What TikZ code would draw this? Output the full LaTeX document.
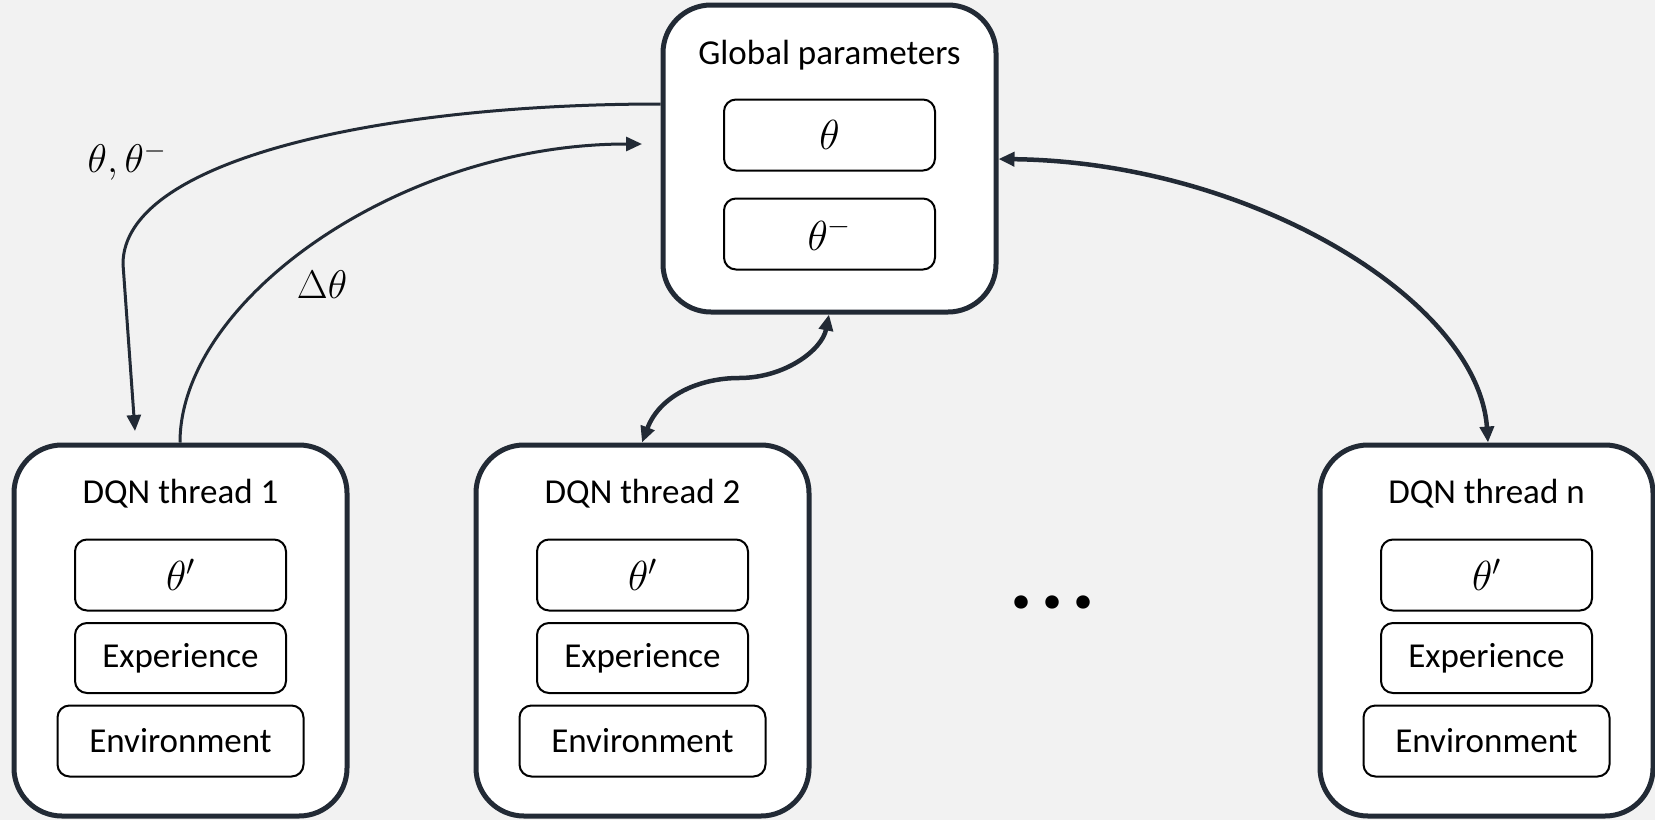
\RequirePackage{fix-cm}
\documentclass[tikz,border=0pt]{standalone}
\usepackage{fontspec}
\setmainfont{Carlito}
\usetikzlibrary{arrows.meta}
\definecolor{bg}{HTML}{F2F2F2}
\definecolor{ink}{HTML}{222A35}
\tikzset{
  hd/.tip={Triangle[length=16pt,width=14pt]},
  outer/.style={draw=ink, line width=5pt, fill=white, rounded corners=48pt,
    minimum width=333pt, inner sep=0pt},
  inner/.style={draw=black, line width=2pt, fill=white, rounded corners=12pt,
    minimum height=71pt, inner sep=0pt, font=\fontsize{35}{42}\selectfont},
  title/.style={font=\fontsize{35}{42}\selectfont},
  lbl/.style={font=\fontsize{40}{46}\selectfont},
  sym/.style={font=\fontsize{42}{48}\selectfont},
  thinarrow/.style={draw=ink, line width=3pt, -hd},
  thickarrow/.style={draw=ink, line width=4.5pt, hd-hd},
}
\begin{document}
\begin{tikzpicture}[x=1pt,y=-1pt]
  % canvas
  \fill[bg] (0,0) rectangle (1655,820);
  \useasboundingbox (0,0) rectangle (1655,820);

  % global parameter store
  \node[outer, minimum height=307pt] (g) at (829.5,158.5) {};
  \node[title] (gt) at (829.5,55) {Global parameters};
  \node[inner, sym, minimum width=211pt] (gth) at (829.5,135) {$\theta$};
  \node[inner, sym, minimum width=211pt] (gtm) at (829.5,234) {$\theta^-$};

  % worker threads
  \foreach \dx/\k in {0/1, 462/2, 1306/n} {
    \node[outer, minimum height=371pt] (t\k) at ({180.5+\dx},630.5) {};
    \node[title] (tt\k) at ({180.5+\dx},494) {DQN thread \k};
    \node[inner, sym, minimum width=211pt] (tp\k) at ({180.5+\dx},575) {$\theta'$};
    \node[inner, minimum width=211pt, minimum height=70pt] (te\k) at ({180.5+\dx},658) {Experience};
    \node[inner, minimum width=246pt] (tv\k) at ({180.5+\dx},741) {Environment};
  }

  % ellipsis between threads
  \node[anchor=base, inner sep=0pt, font=\fontsize{90}{90}\selectfont\bfseries] (dots) at (1053,608) {.\kern7pt.\kern7pt.};

  % free ends of the thread-1 exchange
  \coordinate (pull) at (135,431);
  \coordinate (push) at (642,144);

  % parameters sent to thread 1
  \draw[thinarrow] (g.west |- 0,104) .. controls (380,104) and (123,160) .. (123,264) -- (pull);
  % gradients sent back
  \draw[thinarrow] (t1.north -| 180,0) .. controls (180,300) and (400,144) .. (push);

  \node[lbl] (lab1) at (127,161) {$\theta, \theta^-$};
  \node[lbl] (lab2) at (322,285) {$\Delta\theta$};

  % two-way exchange with threads 2 and n
  \draw[thickarrow] (t2.north -| 642,0) .. controls (660,395) and (700,378) .. (739,378)
        .. controls (785,378) and (822,350) .. (g.south -| 829,0);
  \draw[thickarrow] (g.east |- 0,159) .. controls (1250,162) and (1478,300) .. (tn.north -| 1488,0);
\end{tikzpicture}
\end{document}
